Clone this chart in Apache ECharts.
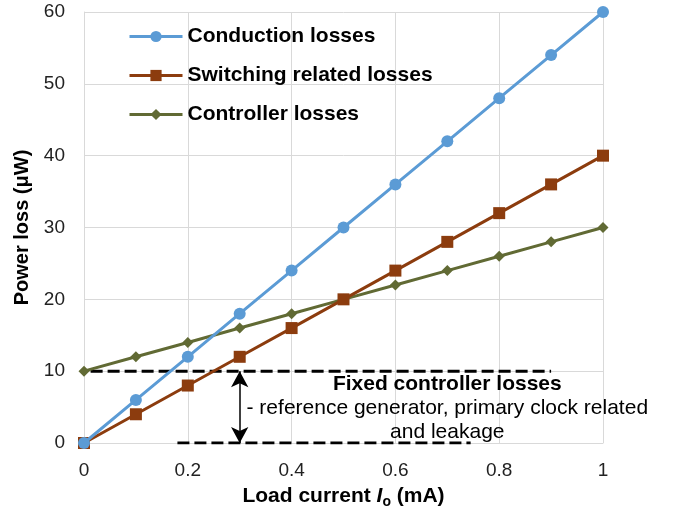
<!DOCTYPE html>
<html>
<head>
<meta charset="utf-8">
<script src="https://cdn.jsdelivr.net/npm/echarts@6/dist/echarts.min.js"></script>
<style>
  html, body { margin: 0; padding: 0; background: #fff; }
  #chart { width: 674px; height: 514px; }
</style>
</head>
<body>
<div id="chart"></div>
<script>
// load current (mA)
const current = [0, 0.1, 0.2, 0.3, 0.4, 0.5, 0.6, 0.7, 0.8, 0.9, 1];
const conduction = [0, 6, 12, 18, 24, 30, 36, 42, 48, 54, 60];
const switching = [0, 4, 8, 12, 16, 20, 24, 28, 32, 36, 40];
const controller = [10, 12, 14, 16, 18, 20, 22, 24, 26, 28, 30];

// fixed losses annotation
const fixedTop = [[-0.02, 10], [0.9, 10]];
const fixedBottom = [[0.18, 0], [0.745, 0]];
const arrowX = 0.3;
const noteAt = [0.70, 4.9];

const font = "Liberation Sans, Arial, sans-serif";

function pairs(ys) {
  return current.map((x, i) => [x, ys[i]]);
}

const chart = echarts.init(document.getElementById("chart"));
chart.setOption({
  animation: false,
  textStyle: { fontFamily: font },
  grid: { left: 84, right: 71, top: 12, bottom: 71 },
  legend: {
    orient: "vertical",
    left: 123,
    top: 21,
    itemWidth: 53,
    itemHeight: 14,
    itemGap: 18,
    lineStyle: { width: 3 },
    textStyle: { fontFamily: font, fontSize: 21, fontWeight: "bold", color: "#000" },
    data: ["Conduction losses", "Switching related losses", "Controller losses"]
  },
  xAxis: {
    type: "value",
    min: 0,
    max: 1,
    interval: 0.2,
    name: "{a|Load current }{i|I}{s|o}{a| (mA)}",
    nameLocation: "middle",
    nameGap: 40,
    nameTextStyle: {
      rich: {
        a: { fontFamily: font, fontSize: 21, fontWeight: "bold", color: "#000" },
        i: { fontFamily: font, fontSize: 21, fontWeight: "bold", fontStyle: "italic", color: "#000" },
        s: { fontFamily: font, fontSize: 14, fontWeight: "bold", color: "#000", padding: [12, 0, 0, 0] }
      }
    },
    axisLine: { show: true, lineStyle: { color: "#d9d9d9", width: 1 } },
    axisTick: { show: false },
    axisLabel: { color: "#222", fontSize: 19, margin: 18, formatter: v => String(+v.toFixed(1)) },
    splitLine: { show: true, lineStyle: { color: "#d9d9d9", width: 1 } }
  },
  yAxis: {
    type: "value",
    min: 0,
    max: 60,
    interval: 10,
    name: "Power loss (μW)",
    nameLocation: "middle",
    nameGap: 51,
    nameTextStyle: { fontFamily: font, fontSize: 20, fontWeight: "bold", color: "#000" },
    axisLine: { show: true, lineStyle: { color: "#d9d9d9", width: 1 } },
    axisTick: { show: false },
    axisLabel: { color: "#222", fontSize: 19, margin: 19 },
    splitLine: { show: true, lineStyle: { color: "#d9d9d9", width: 1 } }
  },
  series: [
    {
      name: "fixedTop",
      type: "line",
      data: fixedTop,
      clip: false,
      symbol: "none",
      silent: true,
      lineStyle: { color: "#000", width: 3, type: [12, 5] },
      z: 1
    },
    {
      name: "fixedBottom",
      type: "line",
      data: fixedBottom,
      symbol: "none",
      silent: true,
      lineStyle: { color: "#000", width: 3, type: [12, 5] },
      markLine: {
        silent: true,
        symbol: ["arrow", "arrow"],
        symbolSize: [13, 16],
        label: { show: false },
        lineStyle: { color: "#000", width: 1.5, type: "solid" },
        data: [[{ coord: [arrowX, 10] }, { coord: [arrowX, 0] }]]
      },
      z: 1
    },
    {
      name: "note",
      type: "scatter",
      data: [noteAt],
      symbolSize: 0,
      silent: true,
      itemStyle: { opacity: 1 },
      label: {
        show: true,
        position: "inside",
        color: "#000",
        textBorderWidth: 0,
        formatter: "{b|Fixed controller losses}\n{n|- reference generator, primary clock related}\n{n|and leakage}",
        rich: {
          b: { fontFamily: font, fontSize: 21, fontWeight: "bold", color: "#000", lineHeight: 24, align: "center", textBorderWidth: 0 },
          n: { fontFamily: font, fontSize: 21, color: "#000", lineHeight: 24, align: "center", textBorderWidth: 0 }
        }
      }
    },
    {
      name: "Conduction losses",
      type: "line",
      data: pairs(conduction),
      symbol: "circle",
      symbolSize: 12,
      itemStyle: { color: "#5b9bd5" },
      lineStyle: { color: "#5b9bd5", width: 3 },
      z: 4
    },
    {
      name: "Switching related losses",
      type: "line",
      data: pairs(switching),
      symbol: "rect",
      symbolSize: 12,
      itemStyle: { color: "#8c3c0e" },
      lineStyle: { color: "#8c3c0e", width: 3 },
      z: 3
    },
    {
      name: "Controller losses",
      type: "line",
      data: pairs(controller),
      symbol: "diamond",
      symbolSize: 11,
      itemStyle: { color: "#616a34" },
      lineStyle: { color: "#616a34", width: 3 },
      z: 2
    }
  ]
});
</script>
</body>
</html>
